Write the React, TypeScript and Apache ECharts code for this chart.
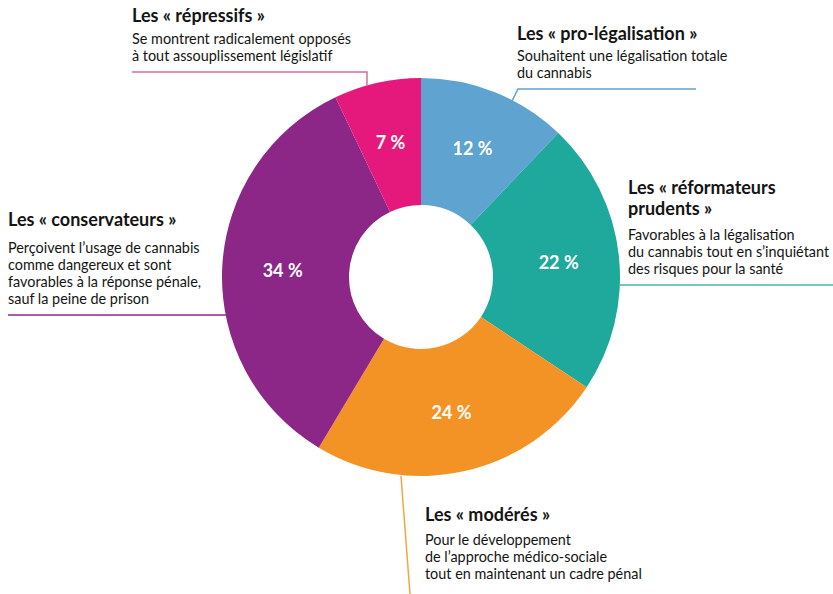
import React, { useEffect, useRef } from "react";
import * as echarts from "echarts";

const categories = ["pro-légalisation", "réformateurs prudents", "modérés", "conservateurs", "répressifs"];
const values = [12, 22, 24, 34, 7];
const colors = ["#5fa3d0", "#1fa89c", "#f39325", "#8c2788", "#e5197b"];

const titles = [
  { lines: ["Les « pro-légalisation »"], x: 517, y: 33 },
  { lines: ["Les « réformateurs", "prudents »"], x: 628, y: 187 },
  { lines: ["Les « modérés »"], x: 425, y: 514 },
  { lines: ["Les « conservateurs »"], x: 8, y: 219 },
  { lines: ["Les « répressifs »"], x: 132, y: 15 },
];
const descriptions = [
  { lines: ["Souhaitent une légalisation totale", "du cannabis"], x: 517, y: 55 },
  { lines: ["Favorables à la légalisation", "du cannabis tout en s’inquiétant", "des risques pour la santé"], x: 628, y: 234 },
  { lines: ["Pour le développement", "de l’approche médico-sociale", "tout en maintenant un cadre pénal"], x: 425, y: 539 },
  { lines: ["Perçoivent l’usage de cannabis", "comme dangereux et sont", "favorables à la réponse pénale,", "sauf la peine de prison"], x: 8, y: 247 },
  { lines: ["Se montrent radicalement opposés", "à tout assouplissement législatif"], x: 132, y: 38 },
];
const leaderLines = [
  { pts: [[696, 89], [518, 89], [511, 103]], color: "#5fa3d0" },
  { pts: [[619, 285], [833, 285]], color: "#4db5aa" },
  { pts: [[401, 476], [410, 594]], color: "#f3a640" },
  { pts: [[8, 315], [226, 315]], color: "#8c2788" },
  { pts: [[132, 72], [367, 72], [367, 86]], color: "#d96ba3" },
];

const FONT = "Lato, 'Open Sans', sans-serif";

export default function App() {
  const ref = useRef<HTMLDivElement>(null);
  useEffect(() => {
    document.body.style.margin = "0";
    const chart = echarts.init(ref.current!, null, { renderer: "svg" });
    const graphics: any[] = [];
    leaderLines.forEach((l) => {
      graphics.push({
        type: "polyline",
        shape: { points: l.pts },
        style: { stroke: l.color, lineWidth: 1.5, fill: null },
        z: 10,
      });
    });
    titles.forEach((t) => {
      t.lines.forEach((line, i) => {
        graphics.push({
          type: "text",
          x: t.x,
          y: t.y + i * 21,
          style: { text: line, font: `bold 18px ${FONT}`, fill: "#141414", textAlign: "left", textVerticalAlign: "middle" },
          z: 10,
        });
      });
    });
    descriptions.forEach((d) => {
      d.lines.forEach((line, i) => {
        graphics.push({
          type: "text",
          x: d.x,
          y: d.y + i * 17,
          style: { text: line, font: `14.4px ${FONT}`, fill: "#141414", textAlign: "left", textVerticalAlign: "middle" },
          z: 10,
        });
      });
    });
    chart.setOption({
      animation: false,
      backgroundColor: "#ffffff",
      graphic: graphics,
      series: [
        {
          type: "pie",
          center: [421, 277],
          radius: [72, 199],
          startAngle: 90,
          clockwise: true,
          silent: true,
          data: categories.map((c, i) => ({ name: c, value: values[i], itemStyle: { color: colors[i] } })),
          label: {
            show: true,
            position: "inside",
            formatter: "{c} %",
            color: "#ffffff",
            fontFamily: FONT,
            fontWeight: "bold",
            fontSize: 18,
          },
          labelLine: { show: false },
        },
      ],
    });
    return () => chart.dispose();
  }, []);
  return <div ref={ref} style={{ width: 833, height: 594, position: "fixed", left: 0, top: 0 }} />;
}
